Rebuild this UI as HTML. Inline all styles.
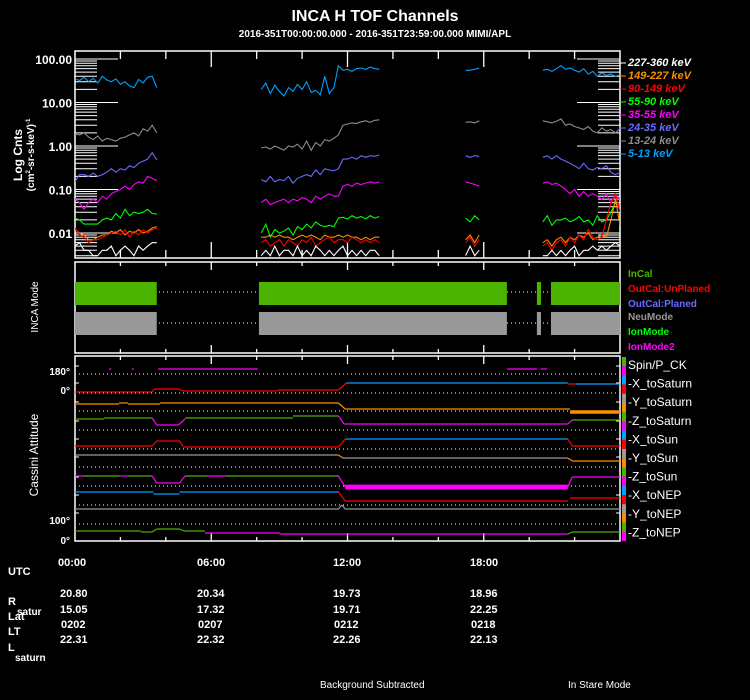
<!DOCTYPE html>
<html><head><meta charset="utf-8">
<style>
html,body{margin:0;padding:0;background:#000;}
svg{display:block;}
text{font-family:"Liberation Sans",sans-serif;}
</style></head>
<body>
<svg id="chart" width="750" height="700" viewBox="0 0 750 700" xmlns="http://www.w3.org/2000/svg">
<rect x="0" y="0" width="750" height="700" fill="#000"/>
<text x="375" y="21" text-anchor="middle" fill="#fff" font-size="16" font-weight="bold">INCA H TOF Channels</text>
<text x="375" y="37" text-anchor="middle" fill="#fff" font-size="10" font-weight="bold">2016-351T00:00:00.000 - 2016-351T23:59:00.000 MIMI/APL</text>

<text transform="translate(22,155) rotate(-90)" text-anchor="middle" fill="#fff" font-size="12" font-weight="bold">Log Cnts</text>
<text transform="translate(34,155) rotate(-90)" text-anchor="middle" fill="#fff" font-size="10" font-weight="bold">(cm<tspan font-size="6" dy="-4">2</tspan><tspan dy="4">-sr-s-keV)</tspan><tspan font-size="6" dy="-4">-1</tspan></text>
<text transform="translate(38,307) rotate(-90)" text-anchor="middle" fill="#fff" font-size="10">INCA Mode</text>
<text transform="translate(38,455) rotate(-90)" text-anchor="middle" fill="#fff" font-size="12">Cassini Attitude</text>

<g id="g-top"></g>
<g id="g-mode"></g>
<g id="g-att"></g>

<g fill="#fff" font-size="11" font-weight="bold">
<text x="8" y="575">UTC</text>
<text x="58" y="566">00:00</text>
<text x="197" y="566">06:00</text>
<text x="333" y="566">12:00</text>
<text x="470" y="566">18:00</text>
<text x="8" y="605">R</text>
<text x="17" y="615" font-size="10">satur</text>
<text x="8" y="620">Lat</text>
<text x="8" y="635">LT</text>
<text x="8" y="651">L</text>
<text x="15" y="661" font-size="10">saturn</text>
<text x="60" y="597">20.80</text>
<text x="197" y="597">20.34</text>
<text x="333" y="597">19.73</text>
<text x="470" y="597">18.96</text>
<text x="60" y="613">15.05</text>
<text x="197" y="613">17.32</text>
<text x="333" y="613">19.71</text>
<text x="470" y="613">22.25</text>
<text x="61" y="628">0202</text>
<text x="198" y="628">0207</text>
<text x="334" y="628">0212</text>
<text x="471" y="628">0218</text>
<text x="60" y="643">22.31</text>
<text x="197" y="643">22.32</text>
<text x="333" y="643">22.26</text>
<text x="470" y="643">22.13</text>
</g>
<text x="320" y="688" fill="#fff" font-size="10">Background Subtracted</text>
<text x="568" y="688" fill="#fff" font-size="10">In Stare Mode</text>
</svg>
<script>
// ---- data ----
const times = [0,0.2,0.4,0.6,0.8,1.0,1.2,1.4,1.6,1.8,2.0,2.2,2.4,2.6,2.8,3.0,3.2,3.4,3.6,null,
 8.2,8.4,8.6,8.8,9.0,9.2,9.4,9.6,9.8,10.0,10.2,10.4,10.6,10.8,11.0,11.2,11.4,11.6,11.8,12.0,12.2,12.4,12.6,12.8,13.0,13.2,13.4,null,
 17.2,17.4,17.6,17.8,null,
 20.6,20.8,21.0,21.2,21.4,21.6,21.8,22.0,22.2,22.4,22.6,22.8,23.0,23.2,23.4,23.6,23.8,24.0];
const ch5_13 = [35,32,38,30,36,28,40,33,30,35,26,30,24,22,34,28,38,40,22,null,
 20,28,16,25,18,14,22,18,26,20,30,17,19,15,40,16,22,70,55,58,52,60,62,58,65,60,58,null,
 55,55,58,62,null,
 55,58,52,60,70,58,62,55,50,60,45,52,40,48,42,45,40,44];
const ch13_24 = [1.9,1.8,2.0,1.6,1.4,1.7,1.3,1.5,1.4,1.3,1.5,1.6,1.8,2.0,1.7,2.5,2.2,3.0,2.0,null,
 0.9,0.95,0.85,1.0,0.9,0.8,1.0,0.95,1.1,0.85,1.3,0.8,1.2,1.0,1.4,1.3,1.5,1.8,3.0,3.2,3.4,3.3,3.6,3.8,3.5,3.9,4.0,null,
 3.5,3.6,3.4,3.8,null,
 3.8,3.6,3.4,3.7,4.2,3.0,3.2,2.8,2.6,2.4,2.8,2.2,2.0,2.6,2.2,2.4,2.0,2.5];
const ch24_35 = [0.15,0.22,0.22,0.2,0.24,0.2,0.22,0.25,0.3,0.25,0.3,0.28,0.35,0.32,0.4,0.45,0.5,0.7,0.48,null,
 0.17,0.15,0.2,0.15,0.17,0.16,0.2,0.14,0.18,0.2,0.22,0.2,0.28,0.22,0.3,0.28,0.27,0.3,0.5,0.5,0.55,0.5,0.6,0.55,0.6,0.58,0.62,null,
 0.6,0.55,0.6,0.58,null,
 0.55,0.6,0.5,0.6,0.5,0.45,0.4,0.35,0.3,0.4,0.3,0.28,0.32,0.3,0.35,0.25,0.22,0.25];
const ch35_55 = [0.06,0.05,0.035,0.05,0.06,0.05,0.07,0.06,0.08,0.09,0.1,0.12,0.1,0.13,0.15,0.14,0.2,0.18,0.16,null,
 0.05,0.06,0.045,0.05,0.055,0.06,0.05,0.06,0.055,0.065,0.06,0.05,0.07,0.06,0.07,0.08,0.07,0.07,0.12,0.13,0.12,0.14,0.13,0.14,0.15,0.14,0.15,null,
 0.15,0.14,0.13,0.12,null,
 0.14,0.15,0.13,0.14,0.12,0.1,0.08,0.1,0.07,0.09,0.07,0.08,0.07,0.06,0.08,0.05,0.07,0.06];
const ch55_90 = [0.022,0.02,0.016,0.016,0.016,0.016,0.02,0.022,0.02,0.028,0.022,0.035,0.025,0.03,0.028,0.03,0.035,0.028,0.027,null,
 0.01,0.016,0.008,0.012,0.01,0.011,0.013,0.009,0.014,0.012,0.016,0.013,0.018,0.015,0.014,0.015,0.014,0.022,0.023,0.021,0.025,0.022,0.024,0.021,0.025,0.022,0.024,null,
 0.022,0.018,0.025,0.02,null,
 0.018,0.025,0.015,0.02,0.02,0.022,0.018,0.02,0.024,0.018,0.02,0.015,0.025,0.018,0.02,0.03,0.05,0.04];
const ch149_227 = [0.012,0.01,0.009,0.007,0.007,0.008,0.009,0.009,0.011,0.01,0.012,0.009,0.011,0.01,0.012,0.01,0.011,0.013,0.014,null,
 0.008,0.008,0.009,0.008,0.009,0.008,0.008,0.007,0.008,0.009,0.008,0.009,0.008,0.007,0.009,0.008,0.008,0.009,0.008,0.009,0.008,0.008,0.007,0.008,0.007,0.008,0.008,null,
 0.007,0.009,0.006,0.009,null,
 0.006,0.007,0.005,0.007,0.008,0.006,0.008,0.007,0.009,0.008,0.01,0.007,0.008,0.009,0.008,0.02,0.06,0.015];
const ch90_149 = [0.013,0.009,0.008,0.006,0.007,0.007,0.008,0.009,0.01,0.011,0.009,0.012,0.008,0.011,0.009,0.012,0.01,0.012,0.013,null,
 0.006,0.007,0.005,0.006,0.007,0.005,0.007,0.006,0.005,0.007,0.006,0.008,0.005,0.006,0.007,0.008,0.006,0.007,0.007,0.006,0.008,0.007,0.006,0.007,0.006,0.007,0.006,null,
 0.006,0.008,0.005,0.007,null,
 0.005,0.006,0.004,0.006,0.007,0.005,0.008,0.006,0.009,0.007,0.012,0.008,0.007,0.008,0.02,0.05,0.08,0.03];
const ch227_360 = [0.005,0.006,0.004,0.004,0.003,0.003,0.004,0.004,0.005,0.003,0.004,0.005,0.004,0.003,0.005,0.004,0.005,0.006,0.006,null,
 0.003,0.004,0.003,0.005,0.003,0.004,0.004,0.003,0.005,0.003,0.004,0.003,0.005,0.004,0.003,0.004,0.003,0.004,0.005,0.003,0.004,0.003,0.004,0.003,0.004,0.004,0.003,null,
 0.003,0.005,0.003,0.004,null,
 0.003,0.003,0.004,0.003,0.004,0.003,0.004,0.005,0.003,0.004,0.004,0.005,0.004,0.005,0.004,0.005,0.006,0.005];
const channelLabels = ["227-360 keV","149-227 keV","90-149 keV","55-90 keV","35-55 keV","24-35 keV","13-24 keV","5-13 keV"];
const yTickLabels = ["100.00","10.00","1.00","0.10","0.01"];
const yTickValues = [100,10,1,0.1,0.01];
const timeTickHours = [2,4,6,8,10,12,14,16,18,20,22];
const modeStarts = [0,8.1,20.34,20.96];
const modeEnds = [3.6,19.02,20.52,24];
const modeLabels = ["InCal","OutCal:UnPlaned","OutCal:Planed","NeuMode","IonMode","IonMode2"];
const attLabels = ["Spin/P_CK","-X_toSaturn","-Y_toSaturn","-Z_toSaturn","-X_toSun","-Y_toSun","-Z_toSun","-X_toNEP","-Y_toNEP","-Z_toNEP"];
// attitude pieces: [startHour, endHour, startLevel, endLevel, colorKey, width]
const attPieces = [
 [3.66,8.05,172,172,"M",1],[1.5,1.6,172,172,"M",1],[2.5,2.6,172,172,"M",1],[19.02,20.34,172,172,"M",1],[20.5,20.8,172,172,"M",1],
 [0,3.39,149,149,"R",1],[3.39,3.5,149,152,"R",1],[3.5,4.6,152,152,"R",1],[4.6,4.75,152,150,"R",1],[4.75,8.9,150,150,"R",1],[8.9,11.6,151,151,"R",1],[11.6,11.95,151,158,"R",1],[11.95,21.7,158,158,"B",1],[21.7,22.05,157,157,"R",1],[22.05,24,157,157,"B",1],
 [0,1.94,137,137,"O",1],[1.94,2.33,138,138,"O",1],[2.33,3.74,137,137,"O",1],[3.74,11.6,138,138,"O",1],[11.6,11.9,138,132,"O",1],[11.9,21.8,132,132,"O",1],[21.8,24,129,129,"O",3],
 [0,1.28,122,122,"G",1],[1.28,3.4,123,123,"G",1],[3.4,3.6,123,116,"M",1],[3.6,4.55,116,116,"M",1],[4.55,4.85,116,122,"M",1],[4.85,9.6,123,123,"G",1],[9.6,11.6,125,125,"G",1],[11.6,11.85,125,117,"M",1],[11.85,21.7,117,117,"M",1],[21.7,21.9,117,121,"M",1],[21.9,24,121,121,"G",1],
 [0,3.4,95,95,"R",1],[3.4,3.6,95,100,"R",1],[3.6,4.6,100,100,"R",1],[4.6,4.75,100,95,"R",1],[4.75,11.6,94,94,"R",1],[11.6,11.9,94,102,"R",1],[11.9,21.7,102,102,"B",1],[21.7,21.9,102,95,"R",1],[21.9,24,95,95,"R",1],
 [0,11.6,86,86,"Gy",1],[11.6,11.8,86,83,"O",1],[11.8,21.7,83,83,"Gy",1],[21.7,21.9,83,80,"O",1],[21.9,24,80,80,"O",1],
 [0,0.35,65,65,"M",1],[0.35,1.98,65,65,"G",1],[1.98,2.33,65,65,"M",1],[2.33,3.4,65,65,"G",1],[3.4,3.6,65,58,"M",1],[3.6,4.6,58,58,"M",1],[4.6,4.85,58,65,"M",1],[4.85,5.86,65,65,"G",1],[5.86,6.6,65,65,"M",1],[6.6,11.6,65,65,"G",1],[11.6,11.9,65,54,"M",1],[11.9,21.7,54,54,"M",4],[21.7,21.9,54,64,"M",1],[21.9,24,64,64,"M",1],
 [0,3.45,49,49,"B",1],[3.45,4.6,47,47,"B",1],[4.6,11.6,49,49,"B",1],[11.6,11.9,49,40,"R",1],[11.9,21.7,40,40,"R",1],[21.8,24,43,43,"R",1],
 [0,11.6,32,32,"Gy",1],[11.6,11.75,32,36,"Gy",1],[11.75,11.9,36,32,"Gy",1],[11.9,24,32,32,"Gy",1],
 [0,2.9,10,10,"G",1],[2.9,3.4,9,9,"G",1],[3.4,3.6,9,12,"G",1],[3.6,4.6,12,12,"G",1],[4.6,4.8,12,10,"G",1],[4.8,5.72,10,10,"G",1],[5.72,9.03,8,8,"M",1],[9.03,21.7,7,7,"M",1],[21.7,21.9,7,9,"G",1],[21.9,24,9,9,"G",1]
];
const attGridLevels = [167,148,130,111,92,74,55,36,17];
const attTickLevels = [175,158,139,120,102,84,64,46,28];

// ---- layout / scales ----
const NS = "http://www.w3.org/2000/svg";
const X0 = 75, X1 = 620;
const xs = h => X0 + h * (X1 - X0) / 24;
const TOP = {y0:51, y1:258};
const yLog = v => 59 + (2 - Math.log10(v)) * 43.5;
const ATT = {y0:356, y1:541};
const yAtt = lv => ATT.y1 - lv;
const COL = {G:"#4cb400",M:"#ff00ff",B:"#00a0ff",R:"#ff0000",Gy:"#999999",O:"#ff8c00"};

function mk(tag, attrs, parent){
  const e = document.createElementNS(NS, tag);
  for (const k in attrs) e.setAttribute(k, attrs[k]);
  parent.appendChild(e);
  return e;
}
function timeTicks(g, y0, y1, len){
  timeTickHours.forEach(h=>{
    const L = (h%6===0) ? len*2 : len;
    const a = mk("line",{x1:xs(h),x2:xs(h),y1:y0,y2:y0+L,stroke:"#fff","stroke-width":1.3},g);
    
    
    const b = mk("line",{x1:xs(h),x2:xs(h),y1:y1,y2:y1-L,stroke:"#fff","stroke-width":1.3},g);
    
    
  });
}

// ---- top panel ----
const gt = document.getElementById("g-top");
const frame = mk("rect",{x:X0,y:TOP.y0,width:X1-X0,height:TOP.y1-TOP.y0,fill:"none",stroke:"#fff","stroke-width":1.5},gt);


mk("clipPath",{id:"clipTop"},gt).appendChild(document.createElementNS(NS,"rect"));
const cr = gt.querySelector("#clipTop rect");
cr.setAttribute("x",X0);cr.setAttribute("y",TOP.y0);cr.setAttribute("width",X1-X0);cr.setAttribute("height",TOP.y1-TOP.y0);
// log ticks
for (let d=-3; d<=2; d++){
  for (let m=1; m<=9; m++){
    const v = m*Math.pow(10,d);
    const y = yLog(v);
    if (y < TOP.y0 || y > TOP.y1) continue;
    const L = (m===1) ? 43 : 22;
    const l1 = mk("line",{x1:X0,x2:X0+L,y1:y,y2:y,stroke:"#fff","stroke-width":1},gt);
    
    
    const l2 = mk("line",{x1:X1-L,x2:X1,y1:y,y2:y,stroke:"#fff","stroke-width":1},gt);
    
    
  }
}
yTickValues.forEach((v,i)=>{
  const t = mk("text",{x:72,y:yLog(v)+5,"text-anchor":"end",fill:"#fff","font-size":12,"font-weight":"bold"},gt);
  t.textContent = yTickLabels[i];
  
  
});
timeTicks(gt, TOP.y0, TOP.y1, 8);
const series = [ch227_360, ch149_227, ch90_149, ch55_90, ch35_55, ch24_35, ch13_24, ch5_13];
const sColors = ["#ffffff","#ff8c00","#ff0000","#00ff00","#ff00ff","#6a6aff","#8c8c8c","#00a0ff"];
const drawOrder = [7,6,5,4,3,1,2,0];
drawOrder.forEach(si=>{
  const vals = series[si];
  let d = "", pen = false;
  for (let i=0;i<times.length;i++){
    if (times[i]===null || vals[i]===null){ pen=false; continue; }
    d += (pen?"L":"M") + xs(times[i]).toFixed(1) + "," + yLog(vals[i]).toFixed(1);
    pen = true;
  }
  const p = mk("path",{d:d,fill:"none",stroke:sColors[si],"stroke-width":1.1,"clip-path":"url(#clipTop)"},gt);
  
  
});
channelLabels.forEach((lab,i)=>{
  const y = 62 + i*13;
  const tk = mk("line",{x1:620,x2:626,y1:y+1,y2:y+1,stroke:sColors[i],"stroke-width":1},gt);
  
  
  const t = mk("text",{x:628,y:y+4,fill:sColors[i],"font-size":11,"font-weight":"bold","font-style":"italic"},gt);
  t.textContent = lab;
  
  
});

// ---- mode panel ----
const gm = document.getElementById("g-mode");
const mf = mk("rect",{x:X0,y:262,width:X1-X0,height:91,fill:"none",stroke:"#fff","stroke-width":1.5},gm);


timeTicks(gm, 262, 353, 4);
[[292,"#4cb400",282,23],[323,"#999999",312,23]].forEach((row,ri)=>{
  const dl = mk("line",{x1:X0,x2:X1,y1:row[0],y2:row[0],stroke:"#fff","stroke-width":1,"stroke-dasharray":"1,3"},gm);
  
  
  modeStarts.forEach((s,i)=>{
    const r = mk("rect",{x:xs(s),y:row[2],width:xs(modeEnds[i])-xs(s),height:row[3],fill:row[1]},gm);
    
    
  });
});
const modeCols = ["#4cb400","#ff0000","#6a6aff","#999999","#00ff00","#ff00ff"];
modeLabels.forEach((lab,i)=>{
  const t = mk("text",{x:628,y:[277,292,307,320,335,350][i],fill:modeCols[i],"font-size":10,"font-weight":"bold"},gm);
  t.textContent = lab;
  
  
});

// ---- attitude panel ----
const ga = document.getElementById("g-att");
const af = mk("rect",{x:X0,y:ATT.y0,width:X1-X0,height:ATT.y1-ATT.y0,fill:"none",stroke:"#fff","stroke-width":1.5},ga);


timeTicks(ga, ATT.y0, ATT.y1, 4);
attGridLevels.forEach(lv=>{
  const l = mk("line",{x1:X0+4,x2:X1-4,y1:yAtt(lv),y2:yAtt(lv),stroke:"#fff","stroke-width":1,"stroke-dasharray":"1,3"},ga);
  
  
});
attTickLevels.forEach(lv=>{
  const a = mk("line",{x1:X0,x2:X0+4,y1:yAtt(lv),y2:yAtt(lv),stroke:"#fff","stroke-width":1},ga);
  
  
  const b = mk("line",{x1:X1-4,x2:X1,y1:yAtt(lv),y2:yAtt(lv),stroke:"#fff","stroke-width":1},ga);
  
  
});
[["180°",375],["0°",394],["100°",524],["0°",544]].forEach(p=>{
  const t = mk("text",{x:70,y:p[1],"text-anchor":"end",fill:"#fff","font-size":10,"font-weight":"bold"},ga);
  t.textContent = p[0];
  
  
});
attPieces.forEach(pc=>{
  const l = mk("line",{x1:xs(pc[0]),x2:xs(pc[1]),y1:yAtt(pc[2]),y2:yAtt(pc[3]),stroke:COL[pc[4]],"stroke-width":pc[5]*1.2},ga);
  
  
});
const barCols = ["#4cb400","#ff00ff","#00a0ff","#ff0000","#999999","#ff8c00"];
for (let i=0;i<20;i++){
  const r = mk("rect",{x:622,y:357+i*9.2,width:4,height:9.3,fill:barCols[i%6]},ga);
  
  
}
attLabels.forEach((lab,i)=>{
  const t = mk("text",{x:628,y:369+i*18.6,fill:"#fff","font-size":12},ga);
  t.textContent = lab;
  
  
});
</script>
</body></html>
